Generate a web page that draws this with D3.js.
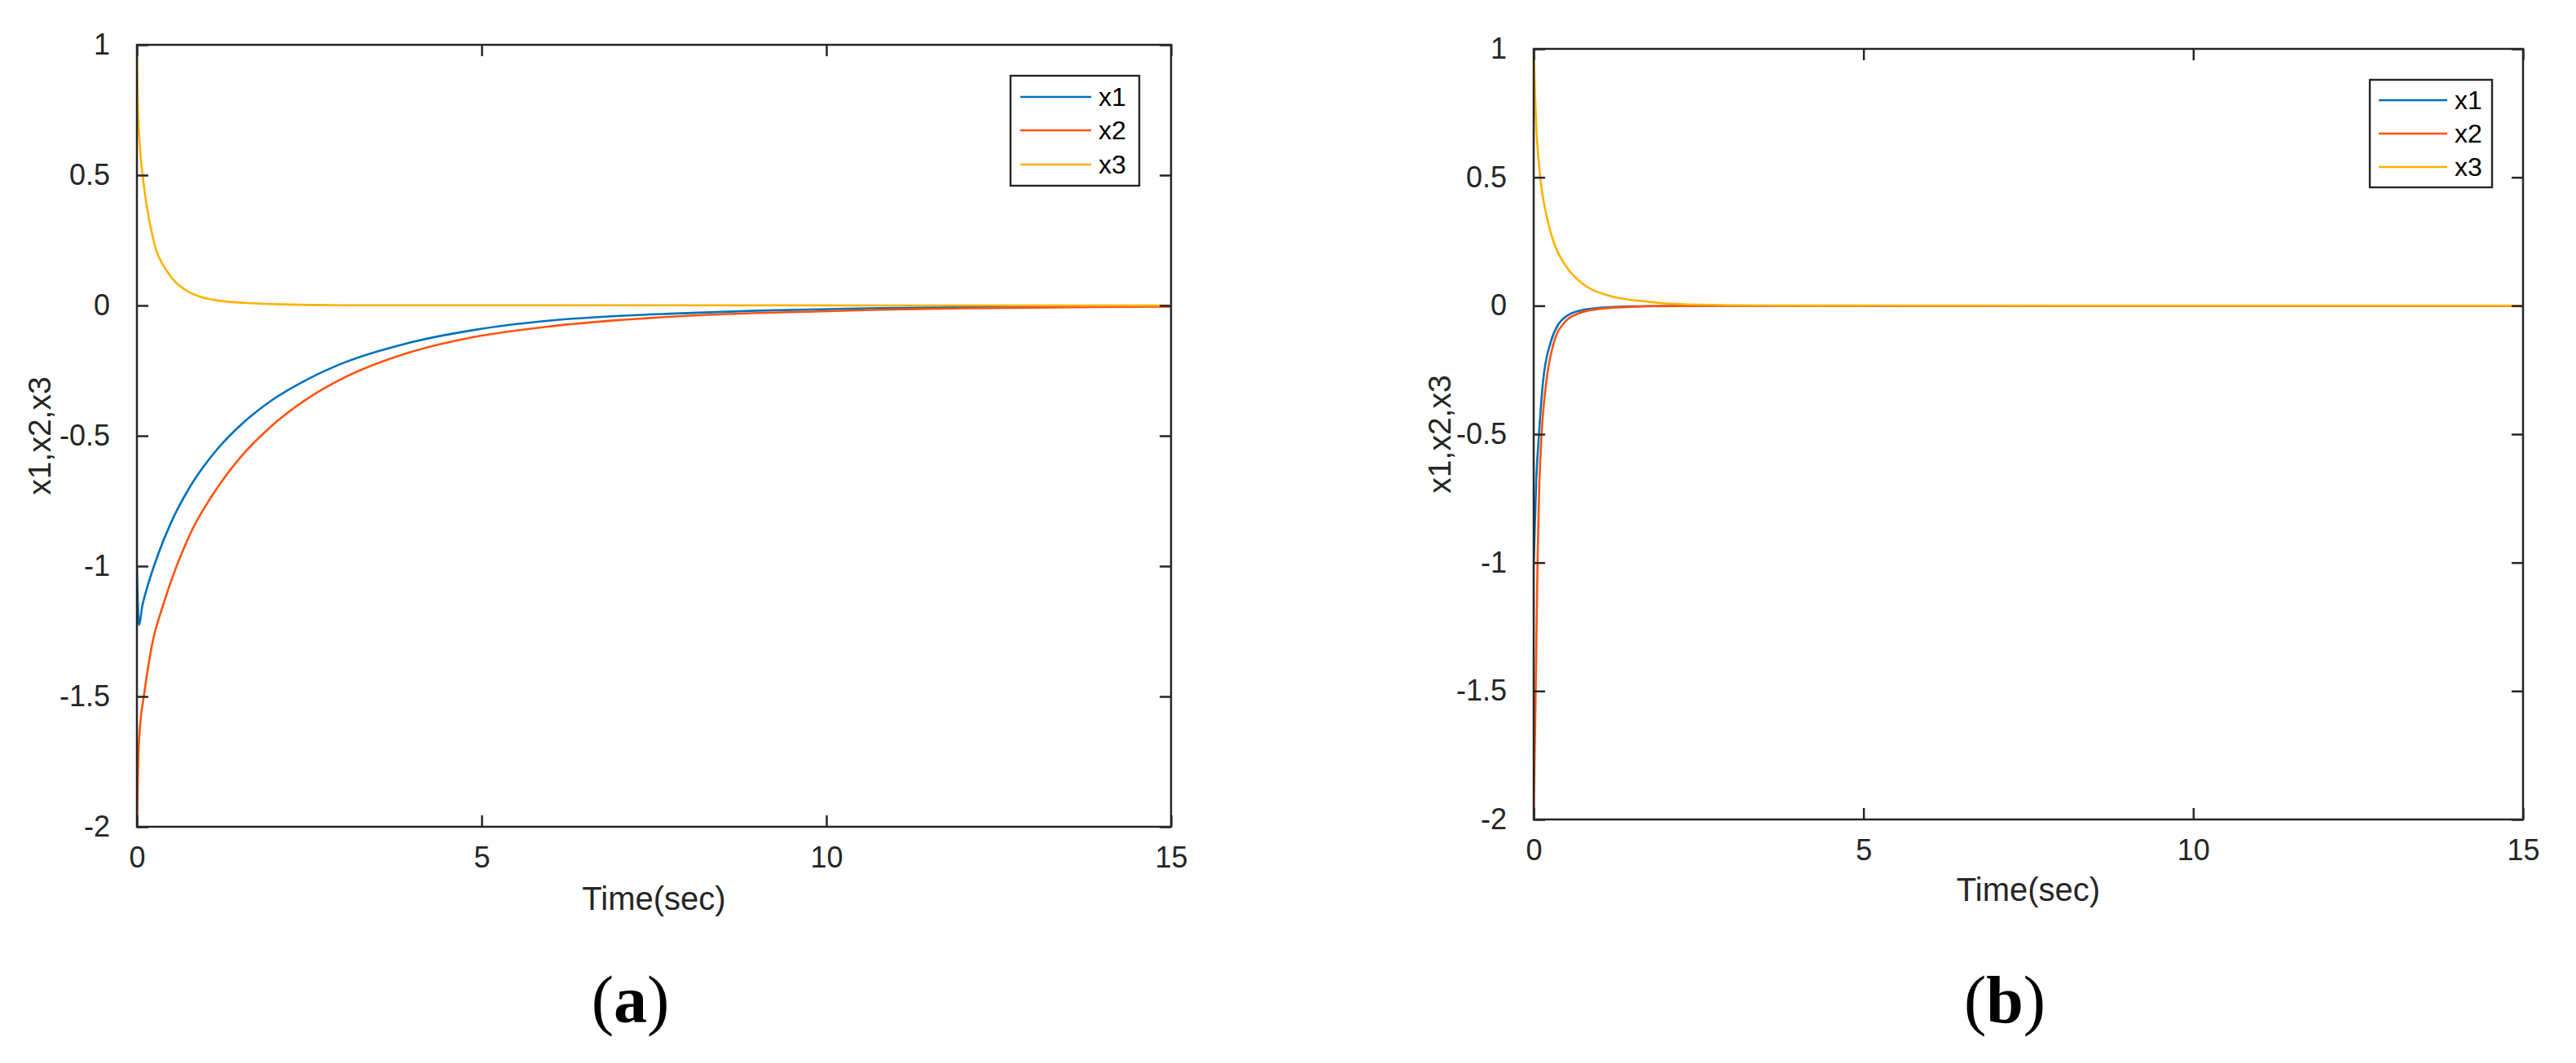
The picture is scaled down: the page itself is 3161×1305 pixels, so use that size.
<!DOCTYPE html>
<html>
<head>
<meta charset="utf-8">
<script src="https://cdn.jsdelivr.net/npm/d3@7"></script>
<style>
  html, body { margin: 0; padding: 0; background: #fff; }
  text { font-family: "Liberation Sans", Arial, Helvetica, sans-serif; fill: #262626; }
</style>
</head>
<body>
<svg id="chart" width="3161" height="1305"></svg>
<script>
// tick labels shared by both panels
const xTicks = [0, 5, 10, 15];
const yTicks = [-2, -1.5, -1, -0.5, 0, 0.5, 1];
const seriesNames = ["x1", "x2", "x3"];
const seriesColors = ["#0072BD", "#FF5310", "#FFB200"];

// panel (a): values
const aX1Time = [0, 0.03, 0.08, 0.14, 0.3, 0.5, 0.76, 1.17, 1.5, 1.95, 2.5, 3.0, 3.92, 4.87, 6, 7, 7.82, 9, 10.78, 12, 13.5, 15];
const aX1Vals = [-1.0, -1.225, -1.15, -1.09, -0.96, -0.83, -0.70, -0.55, -0.46, -0.365, -0.28, -0.22, -0.145, -0.095, -0.058, -0.04, -0.031, -0.02, -0.010, -0.0068, -0.0043, -0.0027];
const aX2Time = [0, 0.02, 0.05, 0.1, 0.22, 0.38, 0.77, 1.17, 1.5, 1.95, 2.5, 3.0, 3.92, 4.87, 6, 7, 7.82, 9, 10.78, 12, 13.5, 15];
const aX2Vals = [-2.0, -1.74, -1.6, -1.5, -1.30, -1.15, -0.878, -0.698, -0.583, -0.463, -0.353, -0.278, -0.183, -0.122, -0.080, -0.056, -0.042, -0.029, -0.0166, -0.011, -0.007, -0.0045];
const aX3Time = [0, 0.01, 0.04, 0.083, 0.17, 0.26, 0.44, 0.7, 0.9, 1.15, 1.56, 2.0, 3.0, 15];
const aX3Vals = [1.0, 0.8, 0.62, 0.5, 0.34, 0.23, 0.13, 0.06, 0.035, 0.02, 0.01, 0.005, 0.001, 0];

// panel (b)
const bX1Time = [0, 0.04, 0.08, 0.14, 0.26, 0.38, 0.5, 0.68, 1.0, 1.5, 2.5, 15];
const bX1Vals = [-1.0, -0.67, -0.5, -0.3, -0.14, -0.07, -0.04, -0.02, -0.008, -0.002, 0, 0];
const bX2Time = [0, 0.03, 0.058, 0.085, 0.12, 0.19, 0.31, 0.45, 0.68, 1.0, 1.5, 2.5, 15];
const bX2Vals = [-2.0, -1.5, -1.0, -0.7, -0.5, -0.3, -0.14, -0.07, -0.03, -0.012, -0.004, 0, 0];
const bX3Time = [0, 0.03, 0.1, 0.2, 0.3, 0.5, 0.72, 1.13, 1.75, 2.5, 3.5, 15];
const bX3Vals = [1.0, 0.75, 0.5, 0.345, 0.25, 0.15, 0.09, 0.04, 0.015, 0.004, 0.001, 0];

const svg = d3.select("#chart");

function drawPanel(cfg) {
    const x = d3.scaleLinear().domain([0, 15]).range([cfg.left, cfg.right]);
    const y = d3.scaleLinear().domain([-2, 1]).range([cfg.bottom, cfg.top]);
    const g = svg.append("g");

    const clipId = "clip-" + cfg.tag;
    g.append("clipPath").attr("id", clipId)
        .append("rect")
        .attr("x", cfg.left).attr("y", cfg.top)
        .attr("width", cfg.right - cfg.left).attr("height", cfg.bottom - cfg.top);

    // curves
    const line = d3.line()
        .x(d => x(d[0]))
        .y(d => y(d[1]))
        .curve(d3.curveMonotoneX);

    cfg.series.forEach((s, i) => {
        g.append("path")
            .datum(d3.zip(s[0], s[1]))
            .attr("clip-path", `url(#${clipId})`)
            .attr("fill", "none")
            .attr("stroke", seriesColors[i])
            .attr("stroke-width", 2.6)
            .attr("d", line);
    });

    // axes: ticks inside on all four sides, MATLAB box style
    const tickLen = 14;
    const fmt = d => String(d);
    const axStyle = sel => {
        sel.selectAll("path").attr("stroke", "#262626").attr("stroke-width", 2.5);
        sel.selectAll("line").attr("stroke", "#262626").attr("stroke-width", 2.5);
        sel.selectAll("text").attr("fill", "#262626").style("font-size", "36px")
            .style("font-family", '"Liberation Sans", Arial, sans-serif');
    };

    g.append("g")
        .attr("transform", `translate(0,${cfg.bottom})`)
        .call(d3.axisBottom(x).tickValues(xTicks).tickFormat(fmt)
            .tickSizeInner(-tickLen).tickSizeOuter(0).tickPadding(24))
        .call(axStyle)
        .call(a => a.select(".domain").remove())
        .selectAll("text").attr("dy", "0.71em");

    g.append("g")
        .attr("transform", `translate(0,${cfg.top})`)
        .call(d3.axisTop(x).tickValues(xTicks).tickFormat("")
            .tickSizeInner(-tickLen).tickSizeOuter(0))
        .call(axStyle)
        .call(a => a.select(".domain").remove());

    g.append("g")
        .attr("transform", `translate(${cfg.left},0)`)
        .call(d3.axisLeft(y).tickValues(yTicks).tickFormat(fmt)
            .tickSizeInner(-tickLen).tickSizeOuter(0).tickPadding(19 + tickLen))
        .call(axStyle)
        .call(a => a.select(".domain").remove());

    g.append("g")
        .attr("transform", `translate(${cfg.right},0)`)
        .call(d3.axisRight(y).tickValues(yTicks).tickFormat("")
            .tickSizeInner(-tickLen).tickSizeOuter(0))
        .call(axStyle)
        .call(a => a.select(".domain").remove());

    // box
    g.append("rect")
        .attr("x", cfg.left).attr("y", cfg.top)
        .attr("width", cfg.right - cfg.left).attr("height", cfg.bottom - cfg.top)
        .attr("fill", "none").attr("stroke", "#262626").attr("stroke-width", 2.5);

    // axis labels
    g.append("text")
        .attr("x", (cfg.left + cfg.right) / 2)
        .attr("y", cfg.bottom + cfg.xLabelGap)
        .attr("text-anchor", "middle")
        .style("font-size", "40px")
        .text("Time(sec)");

    g.append("text")
        .attr("transform", `translate(${cfg.left - cfg.yLabelGap},${(cfg.top + cfg.bottom) / 2}) rotate(-90)`)
        .attr("text-anchor", "middle")
        .style("font-size", "39px")
        .text("x1,x2,x3");

    // legend
    const lg = cfg.legend;
    g.append("rect")
        .attr("x", lg.x0).attr("y", lg.y0)
        .attr("width", lg.x1 - lg.x0).attr("height", lg.y1 - lg.y0)
        .attr("fill", "#fff").attr("stroke", "#262626").attr("stroke-width", 2.4);
    seriesNames.forEach((name, i) => {
        const ly = lg.rowY[i];
        g.append("line")
            .attr("x1", lg.lineX0).attr("x2", lg.lineX1)
            .attr("y1", ly).attr("y2", ly)
            .attr("stroke", seriesColors[i]).attr("stroke-width", 2.4);
        g.append("text")
            .attr("x", lg.textX).attr("y", ly).attr("dy", "0.35em")
            .style("font-size", "32px")
            .style("fill", "#000")
            .text(name);
    });

    // panel caption
    const cap = g.append("text")
        .attr("x", (cfg.left + cfg.right) / 2 - 29)
        .attr("y", 1255)
        .attr("text-anchor", "middle")
        .style("font-family", '"Liberation Serif", "Times New Roman", serif')
        .style("font-size", "82px")
        .style("fill", "#000");
    cap.append("tspan").text("(");
    cap.append("tspan").style("font-weight", "bold").text(cfg.tag);
    cap.append("tspan").text(")");
}

drawPanel({
    tag: "a",
    left: 168, right: 1437, top: 55, bottom: 1015,
    xLabelGap: 102, yLabelGap: 106,
    series: [[aX1Time, aX1Vals], [aX2Time, aX2Vals], [aX3Time, aX3Vals]],
    legend: { x0: 1240, x1: 1398, y0: 93, y1: 228, lineX0: 1252, lineX1: 1339, textX: 1348, rowY: [119, 160, 202] }
});

drawPanel({
    tag: "b",
    left: 1882, right: 3096, top: 60, bottom: 1006,
    xLabelGap: 100, yLabelGap: 102,
    series: [[bX1Time, bX1Vals], [bX2Time, bX2Vals], [bX3Time, bX3Vals]],
    legend: { x0: 2908, x1: 3058, y0: 98, y1: 230, lineX0: 2919, lineX1: 3003, textX: 3012, rowY: [123, 164, 205] }
});
</script>
</body>
</html>
